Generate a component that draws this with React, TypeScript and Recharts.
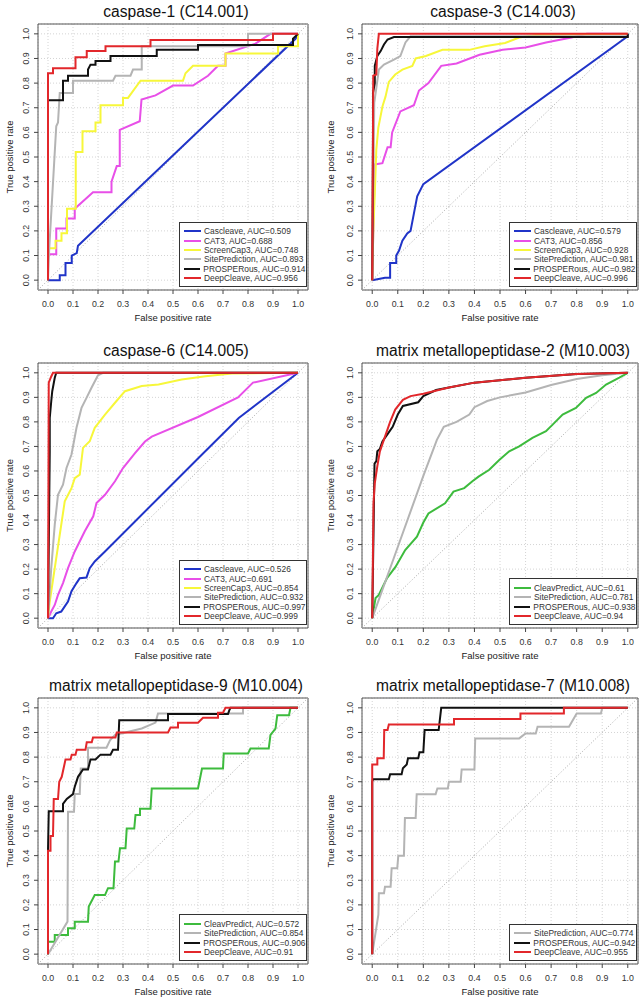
import React from "react";
import {
  CartesianGrid,
  Line,
  LineChart,
  ReferenceArea,
  ReferenceLine,
  XAxis,
  YAxis,
} from "recharts";

type Pt = [number, number];

type Series = {
  name: string;
  auc: string;
  color: string;
  points: Pt[];
};

type Panel = {
  title: string;
  col: number;
  row: number;
  series: Series[];
};

const FONT = "'Liberation Sans', Arial, Helvetica, sans-serif";
const TICKS = [0, 0.1, 0.2, 0.3, 0.4, 0.5, 0.6, 0.7, 0.8, 0.9, 1];

const BLUE = "#2034c8";
const MAGENTA = "#e84fe8";
const YELLOW = "#f7f73a";
const GREY = "#b4b4b4";
const BLACK = "#111111";
const RED = "#e2272b";
const GREEN = "#3dbb3d";

// caspase-1 (C14.001)
const c1Cascleave: Pt[] = [[0, 0], [0.047, 0], [0.047, 0.02], [0.07, 0.02], [0.07, 0.07], [0.095, 0.07], [0.095, 0.1], [0.115, 0.11], [0.12, 0.14], [0.99, 0.98], [1, 1]];
const c1Cat3: Pt[] = [[0, 0], [0, 0.105], [0.033, 0.105], [0.033, 0.21], [0.074, 0.21], [0.074, 0.25], [0.107, 0.25], [0.107, 0.29], [0.18, 0.357], [0.254, 0.357], [0.254, 0.4], [0.275, 0.463], [0.287, 0.463], [0.287, 0.61], [0.367, 0.645], [0.374, 0.733], [0.43, 0.75], [0.5, 0.79], [0.58, 0.79], [0.64, 0.83], [0.68, 0.87], [0.71, 0.87], [0.71, 0.92], [0.83, 0.96], [0.89, 1], [1, 1]];
const c1Screen: Pt[] = [[0, 0], [0, 0.13], [0.03, 0.13], [0.03, 0.16], [0.054, 0.16], [0.054, 0.19], [0.076, 0.19], [0.076, 0.29], [0.111, 0.29], [0.111, 0.52], [0.138, 0.52], [0.138, 0.605], [0.19, 0.605], [0.19, 0.64], [0.21, 0.64], [0.21, 0.71], [0.3, 0.71], [0.3, 0.74], [0.32, 0.74], [0.37, 0.81], [0.54, 0.81], [0.55, 0.84], [0.58, 0.87], [0.71, 0.87], [0.71, 0.92], [0.92, 0.92], [0.92, 0.95], [1, 0.95], [1, 1]];
const c1Site: Pt[] = [[0, 0], [0.005, 0.13], [0.033, 0.625], [0.04, 0.64], [0.047, 0.76], [0.1, 0.76], [0.1, 0.81], [0.26, 0.81], [0.27, 0.83], [0.33, 0.83], [0.34, 0.855], [0.375, 0.855], [0.375, 0.95], [0.8, 0.95], [0.8, 1], [1, 1]];
const c1Prosper: Pt[] = [[0, 0], [0, 0.73], [0.06, 0.73], [0.06, 0.81], [0.08, 0.81], [0.08, 0.83], [0.16, 0.83], [0.16, 0.855], [0.17, 0.875], [0.19, 0.875], [0.19, 0.89], [0.25, 0.89], [0.25, 0.91], [0.435, 0.91], [0.435, 0.935], [0.6, 0.935], [0.6, 0.955], [0.98, 0.955], [0.98, 0.98], [1, 1]];
const c1Deep: Pt[] = [[0, 0], [0, 0.84], [0.02, 0.84], [0.02, 0.86], [0.11, 0.86], [0.11, 0.905], [0.155, 0.905], [0.155, 0.93], [0.23, 0.93], [0.23, 0.95], [0.41, 0.95], [0.41, 0.975], [0.9, 0.975], [0.9, 1], [1, 1]];

// caspase-3 (C14.003)
const c3Cascleave: Pt[] = [[0, 0], [0.05, 0.01], [0.07, 0.01], [0.07, 0.07], [0.094, 0.07], [0.094, 0.1], [0.105, 0.12], [0.118, 0.16], [0.137, 0.19], [0.15, 0.2], [0.163, 0.27], [0.176, 0.34], [0.2, 0.39], [1, 0.99], [1, 1]];
const c3Cat3: Pt[] = [[0, 0], [0.003, 0.14], [0.01, 0.47], [0.04, 0.475], [0.06, 0.54], [0.072, 0.54], [0.078, 0.6], [0.11, 0.685], [0.163, 0.71], [0.183, 0.77], [0.22, 0.8], [0.27, 0.87], [0.33, 0.88], [0.42, 0.915], [0.51, 0.935], [0.6, 0.945], [0.68, 0.965], [0.78, 0.985], [0.84, 1], [1, 1]];
const c3Screen: Pt[] = [[0, 0], [0.004, 0.19], [0.01, 0.35], [0.016, 0.53], [0.024, 0.62], [0.04, 0.705], [0.052, 0.745], [0.065, 0.805], [0.09, 0.835], [0.118, 0.855], [0.157, 0.87], [0.17, 0.9], [0.21, 0.91], [0.275, 0.935], [0.38, 0.935], [0.44, 0.95], [0.52, 0.963], [0.575, 0.985], [0.64, 0.995], [1, 1]];
const c3Site: Pt[] = [[0, 0], [0.008, 0.72], [0.026, 0.855], [0.046, 0.875], [0.085, 0.895], [0.11, 0.91], [0.13, 0.965], [0.15, 0.99], [1, 0.99], [1, 1]];
const c3Prosper: Pt[] = [[0, 0], [0.003, 0.59], [0.003, 0.76], [0.01, 0.8], [0.01, 0.87], [0.02, 0.91], [0.033, 0.93], [0.046, 0.957], [0.06, 0.977], [0.085, 0.987], [1, 0.987], [1, 1]];
const c3Deep: Pt[] = [[0, 0], [0.004, 0.83], [0.016, 0.835], [0.02, 0.94], [0.026, 1], [1, 1]];

// caspase-6 (C14.005)
const c6Cascleave: Pt[] = [[0, 0], [0.02, 0], [0.033, 0.02], [0.053, 0.027], [0.067, 0.048], [0.08, 0.068], [0.094, 0.11], [0.114, 0.143], [0.127, 0.163], [0.154, 0.166], [0.167, 0.204], [0.187, 0.231], [0.228, 0.272], [0.335, 0.381], [0.442, 0.49], [0.602, 0.653], [0.763, 0.816], [1, 1]];
const c6Cat3: Pt[] = [[0, 0], [0.013, 0.027], [0.027, 0.054], [0.04, 0.095], [0.06, 0.143], [0.08, 0.204], [0.107, 0.272], [0.147, 0.354], [0.181, 0.415], [0.194, 0.469], [0.228, 0.503], [0.268, 0.558], [0.3, 0.612], [0.348, 0.673], [0.388, 0.72], [0.415, 0.74], [0.6, 0.82], [0.76, 0.9], [0.82, 0.96], [1, 1]];
const c6Screen: Pt[] = [[0, 0], [0.007, 0.068], [0.027, 0.204], [0.047, 0.34], [0.067, 0.476], [0.094, 0.53], [0.107, 0.571], [0.127, 0.585], [0.14, 0.694], [0.167, 0.721], [0.187, 0.776], [0.228, 0.83], [0.268, 0.878], [0.308, 0.925], [0.375, 0.946], [0.442, 0.952], [0.535, 0.973], [0.63, 0.986], [0.736, 0.997], [1, 1]];
const c6Site: Pt[] = [[0, 0], [0.013, 0.204], [0.027, 0.381], [0.04, 0.503], [0.06, 0.544], [0.074, 0.612], [0.094, 0.667], [0.114, 0.776], [0.134, 0.857], [0.154, 0.898], [0.174, 0.939], [0.2, 0.99], [0.22, 1], [1, 1]];
const c6Prosper: Pt[] = [[0, 0], [0.007, 0.68], [0.007, 0.816], [0.013, 0.884], [0.017, 0.925], [0.027, 0.98], [0.033, 1], [1, 1]];
const c6Deep: Pt[] = [[0, 0], [0.003, 0.96], [0.013, 0.985], [0.02, 1], [1, 1]];

// matrix metallopeptidase-2 (M10.003)
const m2Cleav: Pt[] = [[0, 0], [0.013, 0.082], [0.025, 0.094], [0.057, 0.162], [0.091, 0.209], [0.129, 0.278], [0.175, 0.332], [0.2, 0.39], [0.22, 0.427], [0.285, 0.468], [0.318, 0.516], [0.36, 0.53], [0.392, 0.558], [0.416, 0.577], [0.458, 0.605], [0.497, 0.645], [0.536, 0.68], [0.575, 0.7], [0.627, 0.735], [0.68, 0.762], [0.706, 0.789], [0.745, 0.83], [0.797, 0.857], [0.837, 0.898], [0.876, 0.918], [0.915, 0.952], [0.967, 0.98], [1, 1]];
const m2Site: Pt[] = [[0, 0], [0.1, 0.29], [0.2, 0.58], [0.253, 0.727], [0.28, 0.78], [0.33, 0.8], [0.38, 0.83], [0.4, 0.86], [0.45, 0.885], [0.5, 0.9], [0.6, 0.92], [0.7, 0.95], [0.8, 0.975], [0.9, 0.99], [1, 1]];
const m2Prosper: Pt[] = [[0, 0], [0.009, 0.63], [0.016, 0.64], [0.02, 0.68], [0.03, 0.69], [0.04, 0.72], [0.06, 0.75], [0.08, 0.78], [0.1, 0.83], [0.12, 0.865], [0.18, 0.88], [0.2, 0.905], [0.25, 0.93], [0.3, 0.94], [0.4, 0.96], [0.6, 0.98], [0.8, 0.995], [1, 1]];
const m2Deep: Pt[] = [[0, 0], [0.005, 0.47], [0.01, 0.55], [0.02, 0.62], [0.03, 0.68], [0.05, 0.74], [0.07, 0.8], [0.09, 0.85], [0.12, 0.89], [0.15, 0.905], [0.2, 0.915], [0.3, 0.94], [0.4, 0.96], [0.6, 0.98], [0.8, 0.995], [1, 1]];

// matrix metallopeptidase-9 (M10.004)
const m9Cleav: Pt[] = [[0, 0], [0, 0.05], [0.027, 0.05], [0.027, 0.078], [0.08, 0.078], [0.08, 0.105], [0.107, 0.105], [0.107, 0.132], [0.16, 0.132], [0.163, 0.193], [0.187, 0.24], [0.228, 0.24], [0.24, 0.268], [0.262, 0.268], [0.268, 0.376], [0.282, 0.376], [0.288, 0.43], [0.31, 0.43], [0.315, 0.51], [0.345, 0.51], [0.35, 0.565], [0.368, 0.565], [0.368, 0.59], [0.41, 0.59], [0.415, 0.673], [0.6, 0.673], [0.616, 0.754], [0.7, 0.754], [0.703, 0.815], [0.8, 0.815], [0.81, 0.835], [0.883, 0.835], [0.89, 0.89], [0.91, 0.916], [0.917, 0.97], [0.964, 0.97], [0.97, 1], [1, 1]];
const m9Site: Pt[] = [[0, 0], [0.078, 0.132], [0.08, 0.578], [0.104, 0.578], [0.107, 0.65], [0.127, 0.65], [0.131, 0.754], [0.16, 0.754], [0.16, 0.838], [0.234, 0.838], [0.248, 0.868], [0.268, 0.89], [0.375, 0.916], [0.43, 0.94], [0.44, 0.977], [0.78, 0.977], [0.78, 1], [1, 1]];
const m9Prosper: Pt[] = [[0, 0], [0, 0.42], [0.003, 0.58], [0.06, 0.58], [0.06, 0.61], [0.075, 0.63], [0.1, 0.65], [0.107, 0.68], [0.12, 0.72], [0.14, 0.75], [0.16, 0.75], [0.17, 0.79], [0.19, 0.79], [0.21, 0.81], [0.25, 0.81], [0.26, 0.83], [0.28, 0.83], [0.285, 0.95], [0.48, 0.95], [0.48, 0.975], [0.72, 0.975], [0.725, 0.99], [0.73, 1], [1, 1]];
const m9Deep: Pt[] = [[0, 0], [0, 0.42], [0.01, 0.42], [0.01, 0.48], [0.02, 0.48], [0.023, 0.63], [0.04, 0.63], [0.045, 0.7], [0.055, 0.72], [0.07, 0.79], [0.09, 0.79], [0.095, 0.81], [0.11, 0.81], [0.115, 0.83], [0.15, 0.83], [0.155, 0.86], [0.175, 0.86], [0.18, 0.88], [0.27, 0.88], [0.275, 0.9], [0.48, 0.9], [0.49, 0.92], [0.52, 0.92], [0.52, 0.94], [0.6, 0.94], [0.62, 0.96], [0.68, 0.96], [0.68, 0.98], [0.7, 0.98], [0.71, 1], [1, 1]];

// matrix metallopeptidase-7 (M10.008)
const m7Site: Pt[] = [[0, 0], [0.024, 0.16], [0.026, 0.247], [0.046, 0.247], [0.05, 0.274], [0.072, 0.274], [0.076, 0.349], [0.098, 0.349], [0.102, 0.4], [0.124, 0.4], [0.128, 0.553], [0.17, 0.553], [0.174, 0.649], [0.248, 0.649], [0.255, 0.673], [0.296, 0.673], [0.3, 0.7], [0.346, 0.7], [0.35, 0.75], [0.4, 0.75], [0.403, 0.876], [0.575, 0.876], [0.6, 0.896], [0.64, 0.896], [0.647, 0.923], [0.77, 0.923], [0.8, 0.977], [0.895, 0.977], [0.9, 1], [1, 1]];
const m7Prosper: Pt[] = [[0, 0], [0, 0.7], [0.003, 0.71], [0.065, 0.71], [0.07, 0.73], [0.115, 0.73], [0.12, 0.755], [0.135, 0.77], [0.14, 0.795], [0.18, 0.795], [0.185, 0.82], [0.2, 0.82], [0.205, 0.91], [0.26, 0.91], [0.27, 1], [1, 1]];
const m7Deep: Pt[] = [[0, 0], [0, 0.77], [0.02, 0.77], [0.02, 0.795], [0.045, 0.795], [0.047, 0.91], [0.06, 0.91], [0.065, 0.932], [0.32, 0.932], [0.32, 0.955], [0.58, 0.955], [0.58, 0.977], [0.75, 0.977], [0.75, 1], [1, 1]];

const panels: Panel[] = [
  {
    title: "caspase-1 (C14.001)",
    col: 0,
    row: 0,
    series: [
      { name: "Cascleave", auc: "0.509", color: BLUE, points: c1Cascleave },
      { name: "CAT3", auc: "0.688", color: MAGENTA, points: c1Cat3 },
      { name: "ScreenCap3", auc: "0.748", color: YELLOW, points: c1Screen },
      { name: "SitePrediction", auc: "0.893", color: GREY, points: c1Site },
      { name: "PROSPERous", auc: "0.914", color: BLACK, points: c1Prosper },
      { name: "DeepCleave", auc: "0.956", color: RED, points: c1Deep },
    ],
  },
  {
    title: "caspase-3 (C14.003)",
    col: 1,
    row: 0,
    series: [
      { name: "Cascleave", auc: "0.579", color: BLUE, points: c3Cascleave },
      { name: "CAT3", auc: "0.856", color: MAGENTA, points: c3Cat3 },
      { name: "ScreenCap3", auc: "0.928", color: YELLOW, points: c3Screen },
      { name: "SitePrediction", auc: "0.981", color: GREY, points: c3Site },
      { name: "PROSPERous", auc: "0.982", color: BLACK, points: c3Prosper },
      { name: "DeepCleave", auc: "0.996", color: RED, points: c3Deep },
    ],
  },
  {
    title: "caspase-6 (C14.005)",
    col: 0,
    row: 1,
    series: [
      { name: "Cascleave", auc: "0.526", color: BLUE, points: c6Cascleave },
      { name: "CAT3", auc: "0.691", color: MAGENTA, points: c6Cat3 },
      { name: "ScreenCap3", auc: "0.854", color: YELLOW, points: c6Screen },
      { name: "SitePrediction", auc: "0.932", color: GREY, points: c6Site },
      { name: "PROSPERous", auc: "0.997", color: BLACK, points: c6Prosper },
      { name: "DeepCleave", auc: "0.999", color: RED, points: c6Deep },
    ],
  },
  {
    title: "matrix metallopeptidase-2 (M10.003)",
    col: 1,
    row: 1,
    series: [
      { name: "CleavPredict", auc: "0.61", color: GREEN, points: m2Cleav },
      { name: "SitePrediction", auc: "0.781", color: GREY, points: m2Site },
      { name: "PROSPERous", auc: "0.938", color: BLACK, points: m2Prosper },
      { name: "DeepCleave", auc: "0.94", color: RED, points: m2Deep },
    ],
  },
  {
    title: "matrix metallopeptidase-9 (M10.004)",
    col: 0,
    row: 2,
    series: [
      { name: "CleavPredict", auc: "0.572", color: GREEN, points: m9Cleav },
      { name: "SitePrediction", auc: "0.854", color: GREY, points: m9Site },
      { name: "PROSPERous", auc: "0.906", color: BLACK, points: m9Prosper },
      { name: "DeepCleave", auc: "0.91", color: RED, points: m9Deep },
    ],
  },
  {
    title: "matrix metallopeptidase-7 (M10.008)",
    col: 1,
    row: 2,
    series: [
      { name: "SitePrediction", auc: "0.774", color: GREY, points: m7Site },
      { name: "PROSPERous", auc: "0.942", color: BLACK, points: m7Prosper },
      { name: "DeepCleave", auc: "0.955", color: RED, points: m7Deep },
    ],
  },
];

// page layout of the plot boxes (R's plot region incl. 4% padding)
const COL_X = [0, 321];
const ROW_Y = [0, 335, 668];
const BOX_LEFT = [38, 362];
const BOX_RIGHT = [308, 638];
const BOX_TOP = [24, 363, 698];
const BOX_BOTTOM = [290, 628, 964];

function YTick(props: any) {
  const { x, y, payload } = props;
  const tx = x - 3;
  return (
    <text
      x={tx}
      y={y}
      transform={`rotate(-90, ${tx}, ${y})`}
      textAnchor="middle"
      fontSize={8.8}
      fill="#333"
      fontFamily={FONT}
    >
      {Number(payload.value).toFixed(1)}
    </text>
  );
}

function RocPanel({ panel }: { panel: Panel }) {
  const colX = COL_X[panel.col];
  const rowY = ROW_Y[panel.row];
  const left = BOX_LEFT[panel.col] - colX;
  const right = BOX_RIGHT[panel.col] - colX;
  const top = BOX_TOP[panel.row] - rowY;
  const bottom = BOX_BOTTOM[panel.row] - rowY;
  const width = right + 2;
  const height = bottom + 38;

  return (
    <div style={{ position: "absolute", left: colX, top: rowY, width, height }}>
      <div
        style={{
          position: "absolute",
          left: left + 3,
          width: right - left,
          top: top - 21,
          lineHeight: "18px",
          fontSize: 15.6,
          textAlign: "center",
          color: "#111",
          whiteSpace: "nowrap",
        }}
      >
        {panel.title}
      </div>
      <LineChart
        width={width}
        height={height}
        margin={{ top, right: 2, bottom: 4, left: 0 }}
      >
        <CartesianGrid stroke="#d4d4d4" strokeDasharray="1 2" />
        <XAxis
          type="number"
          dataKey="x"
          domain={[-0.04, 1.04]}
          ticks={TICKS}
          interval={0}
          allowDataOverflow
          height={34}
          axisLine={false}
          tickLine={{ stroke: "#444" }}
          tickSize={4}
          tickMargin={7}
          tick={{ fontSize: 8.8, fill: "#333", fontFamily: FONT }}
          tickFormatter={(v: number) => v.toFixed(1)}
          label={{
            value: "False positive rate",
            position: "insideBottom",
            offset: 3,
            style: { fontSize: 9.5, fill: "#222", fontFamily: FONT },
          }}
        />
        <YAxis
          type="number"
          dataKey="y"
          domain={[-0.04, 1.04]}
          ticks={TICKS}
          interval={0}
          allowDataOverflow
          width={left}
          axisLine={false}
          tickLine={{ stroke: "#444" }}
          tickSize={4}
          tick={YTick}
          label={{
            value: "True positive rate",
            angle: -90,
            position: "insideLeft",
            offset: 10,
            style: { textAnchor: "middle", fontSize: 9.5, fill: "#222", fontFamily: FONT },
          }}
        />
        <ReferenceLine
          segment={[
            { x: -0.04, y: -0.04 },
            { x: 1.04, y: 1.04 },
          ]}
          stroke="#aaaaaa"
          strokeDasharray="1 2"
          ifOverflow="visible"
        />
        {panel.series.map((s) => (
          <Line
            key={s.name}
            data={s.points.map(([x, y]) => ({ x, y }))}
            dataKey="y"
            type="linear"
            stroke={s.color}
            strokeWidth={2}
            dot={false}
            activeDot={false}
            isAnimationActive={false}
          />
        ))}
        <ReferenceArea
          x1={-0.04}
          x2={1.04}
          y1={-0.04}
          y2={1.04}
          fill="none"
          stroke="#555"
          strokeWidth={1}
          ifOverflow="visible"
        />
      </LineChart>
      <div
        style={{
          position: "absolute",
          left: right - 129.5,
          top: bottom - 3 - (panel.series.length * 9.3 + 9.5),
          width: 128,
          boxSizing: "border-box",
          padding: "4px 0 3.5px 0",
          border: "1px solid #333",
          background: "#fff",
        }}
      >
        {panel.series.map((s) => (
          <div
            key={s.name}
            style={{ display: "flex", alignItems: "center", height: 9.3 }}
          >
            <span
              style={{
                display: "inline-block",
                width: 17,
                height: 2,
                marginLeft: 4,
                marginRight: 3.5,
                background: s.color,
              }}
            />
            <span style={{ fontSize: 8.4, color: "#333", whiteSpace: "nowrap" }}>
              {s.name}, AUC={s.auc}
            </span>
          </div>
        ))}
      </div>
    </div>
  );
}

export default function App() {
  return (
    <div
      style={{
        position: "relative",
        width: 643,
        height: 1002,
        background: "#fff",
        fontFamily: FONT,
        overflow: "hidden",
      }}
    >
      <style>{"body{margin:0}"}</style>
      {panels.map((p) => (
        <RocPanel key={p.title} panel={p} />
      ))}
    </div>
  );
}
